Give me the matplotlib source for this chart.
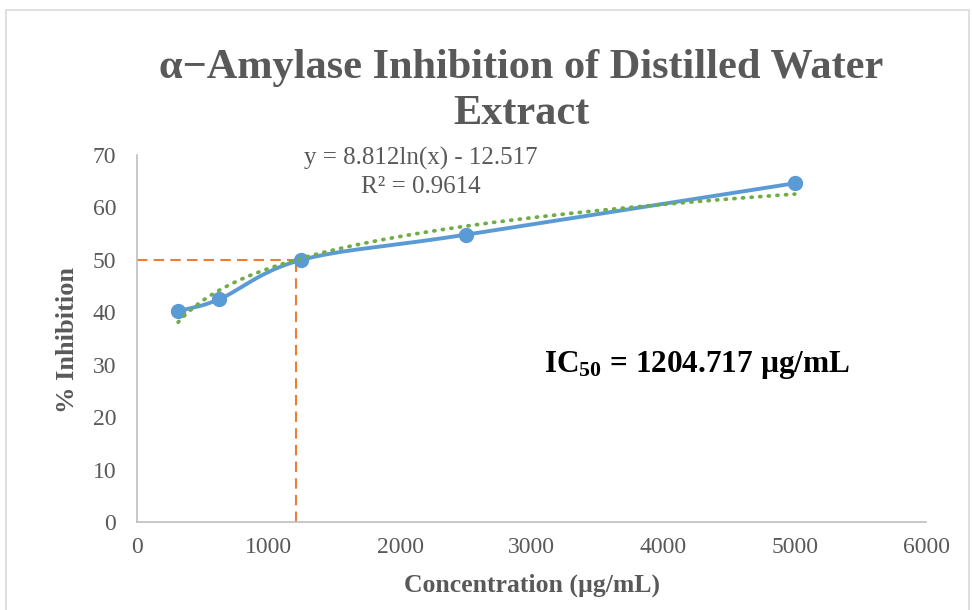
import numpy as np
import matplotlib.pyplot as plt
from matplotlib.patches import Rectangle

# data
conc = [312.5, 625, 1250, 2500, 5000]
inhibition = [40.2, 42.5, 50.0, 54.8, 64.6]
fit_a, fit_b = 8.812, -12.517
ic50 = 1204.717
xticks = [0, 1000, 2000, 3000, 4000, 5000, 6000]
yticks = [0, 10, 20, 30, 40, 50, 60, 70]

plt.rcParams['font.family'] = ['Liberation Serif', 'DejaVu Serif']
plt.rcParams['mathtext.fontset'] = 'custom'
plt.rcParams['mathtext.rm'] = 'Liberation Serif'
plt.rcParams['mathtext.bf'] = 'Liberation Serif:bold'

gray = '#595959'
blue = '#5B9BD5'
orange = '#ED7D31'
green = '#70AD47'


def smooth(xs, ys, n=40):
    # Catmull-Rom style smoothing like Excel's "smoothed line"
    px = np.array(xs, float)
    py = np.array(ys, float)
    px = np.concatenate([[2 * px[0] - px[1]], px, [2 * px[-1] - px[-2]]])
    py = np.concatenate([[2 * py[0] - py[1]], py, [2 * py[-1] - py[-2]]])
    outx, outy = [], []
    t = np.linspace(0, 1, n)
    for i in range(1, len(px) - 2):
        for arr, out in ((px, outx), (py, outy)):
            p0, p1, p2, p3 = arr[i - 1], arr[i], arr[i + 1], arr[i + 2]
            c1 = p1 + (p2 - p0) / 6
            c2 = p2 - (p3 - p1) / 6
            out.extend((1 - t) ** 3 * p1 + 3 * (1 - t) ** 2 * t * c1
                       + 3 * (1 - t) * t ** 2 * c2 + t ** 3 * p2)
    return outx, outy


fig = plt.figure(figsize=(9.72, 6.10), dpi=100)
ax = fig.add_axes([0.141, 0.144, 0.812, 0.602])

# IC50 guide lines
ax.plot([0, ic50], [50, 50], color=orange, lw=1.5, ls=(0, (5, 3)), zorder=2)
ax.plot([ic50, ic50], [0, 50], color=orange, lw=1.5, ls=(0, (5, 3)), zorder=2)

sx, sy = smooth(conc, inhibition)
ax.plot(sx, sy, color=blue, lw=2.8, zorder=3)
ax.plot(conc, inhibition, 'o', color=blue, ms=10, zorder=4)

# log trendline
tx = np.linspace(conc[0], conc[-1], 300)
ax.plot(tx, fit_a * np.log(tx) + fit_b, color=green, lw=2.7,
        ls=(0, (0.3, 2.0)), dash_capstyle='round', zorder=5)

ax.set_xlim(0, 6000)
ax.set_ylim(0, 70)
ax.set_xticks(xticks)
ax.set_yticks(yticks)
ax.tick_params(length=0, labelsize=17, labelcolor=gray)
ax.tick_params(axis='y', pad=15)
ax.tick_params(axis='x', pad=11)
for s in ['top', 'right']:
    ax.spines[s].set_visible(False)
for s in ['left', 'bottom']:
    ax.spines[s].set_color('#BFBFBF')
    ax.spines[s].set_linewidth(1.2)

ax.set_xlabel('Concentration (µg/mL)', fontsize=18.5, fontweight='bold', color=gray)
ax.set_ylabel('% Inhibition', fontsize=19, fontweight='bold', color=gray)
ax.xaxis.label.set_va('center')
ax.yaxis.label.set_va('center')
ax.xaxis.set_label_coords(0.5, -0.172)
ax.yaxis.set_label_coords(-0.0875, 0.496)

fig.text(0.536, 0.851, 'α−Amylase Inhibition of Distilled Water\nExtract', ha='center', va='center',
         fontsize=30.5, fontweight='bold', color=gray, linespacing=1.28)

ax.text(2160, 71.6, 'y = 8.812ln(x) - 12.517\nR² = 0.9614', ha='center', va='top',
        fontsize=18, color=gray, linespacing=1.38)

ax.text(4259, 30, r'$\mathbf{IC_{50}}$ = 1204.717 µg/mL', ha='center', va='center',
        fontsize=22.5, fontweight='bold', color='black')

fig.patches.append(Rectangle((0.006, -0.01), 0.991, 0.994, transform=fig.transFigure,
                             fill=False, edgecolor='#D9D9D9', lw=1.2))

fig.savefig('out.png', dpi=100)
